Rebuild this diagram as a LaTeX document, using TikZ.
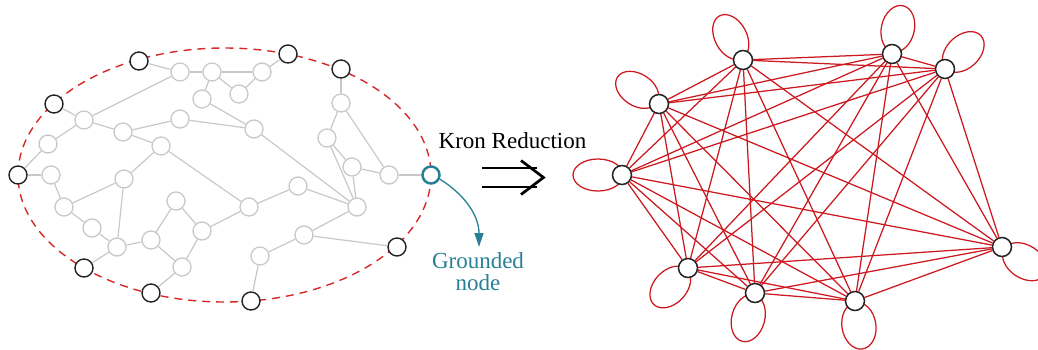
\documentclass[tikz,border=0pt]{standalone}
\usepackage{fontspec}
\setmainfont{Liberation Serif}
\usetikzlibrary{arrows.meta}
\definecolor{lgray}{RGB}{200,200,200}
\definecolor{dred}{RGB}{214,40,40}
\definecolor{ered}{RGB}{204,24,30}
\definecolor{tealc}{RGB}{40,128,148}
\definecolor{ink}{RGB}{35,35,35}
\pgfdeclarelayer{bg}
\pgfsetlayers{bg,main}
\tikzset{
  gnode/.style={circle, draw=lgray, line width=1.3pt, fill=white, minimum size=18pt, inner sep=0pt},
  bnode/.style={circle, draw=ink, line width=1.4pt, fill=white, minimum size=18pt, inner sep=0pt},
  tnode/.style={circle, draw=tealc, line width=2.5pt, fill=white, minimum size=17pt, inner sep=0pt},
  rnode/.style={circle, draw=ink, line width=1.5pt, fill=white, minimum size=19pt, inner sep=0pt},
  gedge/.style={draw=lgray, line width=1.2pt},
  redge/.style={draw=ered, line width=1.25pt},
  loopline/.style={draw=ered, line width=1.25pt},
  bdry/.style={draw=dred, line width=1.4pt, dash pattern=on 8pt off 6pt},
  lbl/.style={font=\fontsize{23}{22}\selectfont, inner sep=0pt},
  implies/.style={draw=black, line width=2.7pt},
}
\begin{document}
\begin{tikzpicture}[x=1pt,y=-1pt]
\useasboundingbox (0,0) rectangle (1038,349);
\begin{pgfonlayer}{bg}
\draw[bdry] (224.5,175) ellipse (206.5 and 127);
\end{pgfonlayer}
% boundary nodes
\foreach \n/\x/\y in {b1/139/61, b2/54/104, b3/18/175, b4/84/268, b5/151/293, b6/251/301, b7/397/247, b8/341/69, b9/288/54}
  \node[bnode] (\n) at (\x,\y) {};
\node[tnode] (g) at (431,175) {};
% interior nodes
\foreach \n/\x/\y in {n1/180/72, n2/212/72, n3/202/99, n4/262/72, n5/239/94, n6/84/120, n7/180/119, n8/123/132, n9/161/146, n10/48/144, n11/51/175, n12/124/179, n13/254/129, n14/341/103, n15/327/138, n16/352/167, n17/389/175, n18/64/207, n19/92/228, n20/117/247, n21/151/240, n22/176/201, n23/202/231, n24/182/267, n26/249/207, n27/298/186, n28/357/207, n29/304/235, n30/260/256}
  \node[gnode] (\n) at (\x,\y) {};
\foreach \a/\b in {b1/n1, n1/n2, n1/n6, n2/n3, n2/n4, n2/n5, n4/n5, n4/b9, n3/n13, n7/n13, n13/n28, n9/n26, b2/n6, n6/n10, n6/n8, n10/b3, b3/n11, n11/n18, n8/n7, n8/n9, n9/n12, n12/n18, n12/n20, n18/n19, n19/n20, n20/b4, n20/n21, n21/n22, n21/n24, n22/n23, n23/n24, n24/b5, n23/n26, n26/n27, n27/n28, n28/n29, n29/n30, n29/b7, n30/b6, b8/n14, n14/n15, n14/n17, n15/n16, n15/n28, n16/n28, n16/n17, n17/g}
  \draw[gedge] (\a) -- (\b);
% grounded label and arrow
\coordinate (gtip) at (479,247);
\draw[draw=tealc, line width=1.3pt, -{Triangle[length=14pt,width=9pt]}] (g.-25) to[out=-32, in=90] (gtip);
\node[lbl, text=tealc, align=center, anchor=north] (glabel) at (478,252.5) {Grounded\\node};
% Kron reduction
\node[lbl, anchor=base] (kron) at (512.5,148) {Kron Reduction};
\coordinate (i1) at (482,168);
\coordinate (i2) at (537,168);
\coordinate (i3) at (482,187);
\coordinate (i4) at (537,187);
\coordinate (c1) at (521,160.5);
\coordinate (c2) at (543.5,177.5);
\coordinate (c3) at (521,194.5);
\draw[implies] (i1) -- (i2) (i3) -- (i4);
\draw[implies, line join=miter] (c1) -- (c2) -- (c3);
% right graph
\foreach \n/\x/\y in {R1/622/175, R2/659/104, R3/743/60, R4/892/54, R5/945/69, R6/1002/247, R7/855/301, R8/755/293, R9/688/268}
  \node[rnode] (\n) at (\x,\y) {};
\foreach \i [evaluate=\i as \k using int(\i+1)] in {1,...,8}
  \foreach \j in {\k,...,9}
    \draw[redge] (R\i) -- (R\j);
\begin{pgfonlayer}{bg}
\foreach \n/\ang/\d/\a/\b in {R1/180/24/25/16, R2/147/26/23.5/16, R3/118/26/24/16, R4/77/26/23.5/16.5, R5/43/25/24/16.5, R6/-33/27/24/16.5, R7/-81/25/23.5/17, R8/-105/26/24/16.5, R9/-133/26/24/16.5}
  \draw[loopline, shift={(\n)}, rotate=\ang] (\d,0) ellipse (\a pt and \b pt);
\end{pgfonlayer}
\end{tikzpicture}
\end{document}
